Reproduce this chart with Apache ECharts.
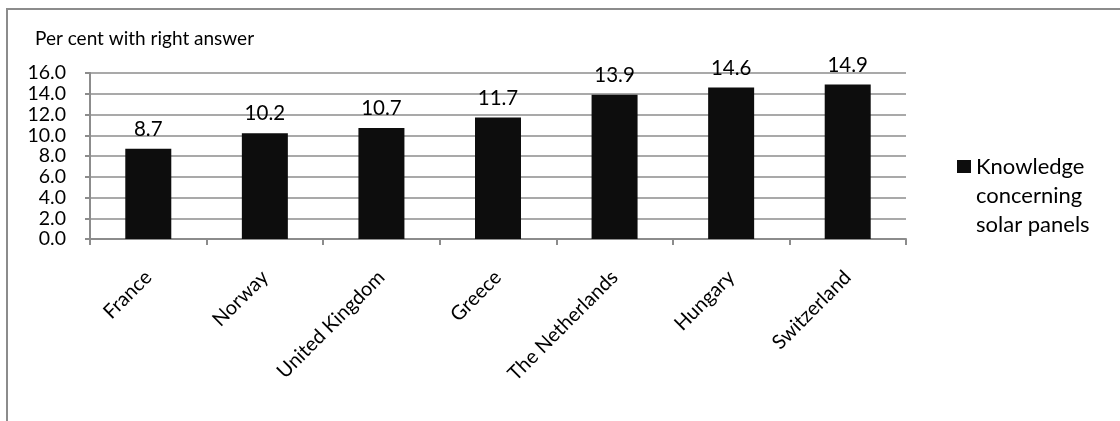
<!DOCTYPE html>
<html>
<head>
<meta charset="utf-8">
<script src="https://cdn.jsdelivr.net/npm/echarts@6/dist/echarts.min.js"></script>
<style>
html,body{margin:0;padding:0;background:#fff;}
#c{width:1120px;height:421px;}
</style>
</head>
<body>
<div id="c"></div>
<script>
var categories = ['France', 'Norway', 'United Kingdom', 'Greece', 'The Netherlands', 'Hungary', 'Switzerland'];
var values = [8.7, 10.2, 10.7, 11.7, 13.9, 14.6, 14.9];
var seriesName = 'Knowledge\nconcerning\nsolar panels';
var axisTitle = 'Per cent with right answer';

var FONT = 'Lato, "Open Sans", sans-serif';
var chart = echarts.init(document.getElementById('c'), null, {renderer: 'canvas'});
chart.setOption({
  backgroundColor: '#ffffff',
  animation: false,
  textStyle: {fontFamily: FONT, color: '#000'},
  title: {
    text: axisTitle, left: 30, top: 24,
    textStyle: {fontFamily: FONT, fontSize: 19, fontWeight: 'normal', color: '#000'}
  },
  graphic: [{
    type: 'rect', silent: true, z: -1,
    shape: {x: 7, y: 9, width: 1118, height: 430},
    style: {fill: 'none', stroke: '#8c8c8c', lineWidth: 2}
  }],
  legend: {
    orient: 'vertical', left: 952, top: 147,
    itemWidth: 14, itemHeight: 71, itemGap: 0,
    icon: 'path://M0,0L14,0L14,13L0,13Z M0,71',
    textStyle: {fontFamily: FONT, fontSize: 22, lineHeight: 29, color: '#000'},
    data: [seriesName]
  },
  grid: {left: 90, right: 214, top: 73, bottom: 182, containLabel: false},
  xAxis: {
    type: 'category', data: categories,
    axisLine: {lineStyle: {color: '#8c8c8c', width: 2}},
    axisTick: {show: true, alignWithLabel: false, length: 6, lineStyle: {color: '#8c8c8c', width: 2}},
    axisLabel: {rotate: 45, margin: 35, fontSize: 20, color: '#000', fontFamily: FONT, interval: 0}
  },
  yAxis: {
    type: 'value', min: 0, max: 16, interval: 2,
    axisLine: {show: true, lineStyle: {color: '#8c8c8c', width: 2}},
    axisTick: {show: true, length: 5, lineStyle: {color: '#8c8c8c', width: 2}},
    axisLabel: {formatter: function(v){return v.toFixed(1);}, fontSize: 19.5, color: '#000', fontFamily: FONT, margin: 24,
      showMinLabel: true, showMaxLabel: true, hideOverlap: false},
    splitLine: {lineStyle: {color: '#8c8c8c', width: 1.5}}
  },
  series: [{
    name: seriesName, type: 'bar', data: values, barWidth: 46,
    itemStyle: {color: '#0d0d0d'},
    label: {show: true, position: 'top', distance: 9, fontSize: 20.5, color: '#000', fontFamily: FONT,
      formatter: function(p){return p.value.toFixed(1);}}
  }]
});
</script>
</body>
</html>
